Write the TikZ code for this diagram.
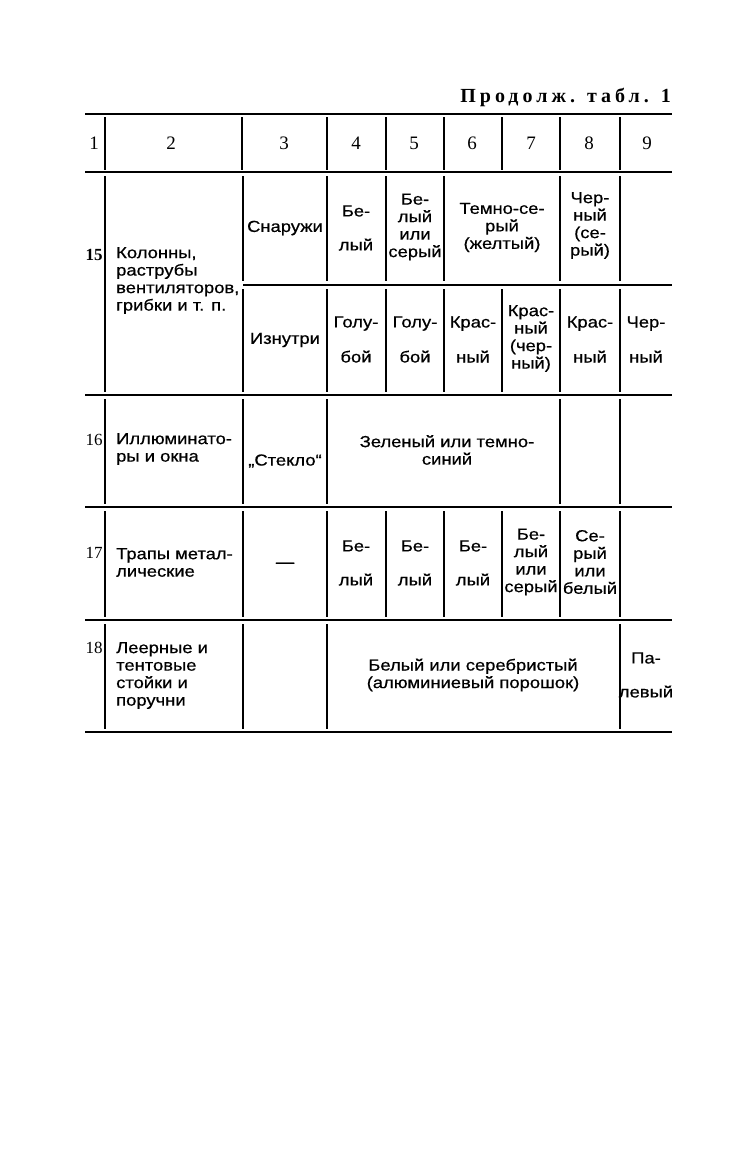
\documentclass[tikz,border=0pt]{standalone}
\usepackage{fontspec}
\setmainfont{Liberation Serif}
\newfontfamily\bodyfont{Liberation Sans}[FakeStretch=1.15,FakeBold=0.6]
\newfontfamily\numfont{Liberation Serif}
\newfontfamily\ttlfont{Liberation Serif}[LetterSpace=20]
\begin{document}
\begin{tikzpicture}[x=1pt,y=-1pt,
  rule/.style={line width=1.5pt},
  thickrule/.style={line width=2.2pt},
  vrule/.style={line width=1.3pt},
  txt/.style={inner sep=0pt,align=center,font=\bodyfont\fontsize{16}{17.5}\selectfont},
  ltxt/.style={inner sep=0pt,align=left,anchor=west,font=\bodyfont\fontsize{16}{17.5}\selectfont},
  hnum/.style={inner sep=0pt,font=\numfont\fontsize{19}{20}\selectfont},
  rnum/.style={inner sep=0pt,font=\numfont\bfseries\fontsize{17}{18}\selectfont}]
\useasboundingbox (0,0) rectangle (750,1175);
% title
\node[inner sep=0pt,anchor=base east,font=\ttlfont\bfseries\fontsize{20}{21}\selectfont] (title) at (671,102) {Продолж. табл. 1};
% horizontal rules
\draw[rule] (85,114) -- (672,114);
\draw[thickrule] (85,172) -- (672,172);
\draw[rule] (243,285) -- (672,285);
\draw[rule] (85,395) -- (672,395);
\draw[rule] (85,507) -- (672,507);
\draw[rule] (85,620) -- (672,620);
\draw[rule] (85,732) -- (672,732);
% vertical rules: header
\foreach \x in {105,242,327,386,444,502,560,620} \draw[vrule] (\x,117) -- (\x,170);
% row 15
\draw[vrule] (105,176) -- (105,392);
\foreach \x in {243,327,386,444,560,620} \draw[vrule] (\x,176) -- (\x,281);
\foreach \x in {243,327,386,444,502,560,620} \draw[vrule] (\x,289) -- (\x,392);
% row 16
\foreach \x in {105,243,327,560,620} \draw[vrule] (\x,399) -- (\x,504);
% row 17
\foreach \x in {105,243,327,386,444,502,560,620} \draw[vrule] (\x,511) -- (\x,617);
% row 18
\foreach \x in {105,243,327,620} \draw[vrule] (\x,624) -- (\x,729);
% header numbers
\node[hnum] (h1) at (94,143) {1};
\node[hnum] (h2) at (171,143) {2};
\node[hnum] (h3) at (284,143) {3};
\node[hnum] (h4) at (356,143) {4};
\node[hnum] (h5) at (414,143) {5};
\node[hnum] (h6) at (472,143) {6};
\node[hnum] (h7) at (531,143) {7};
\node[hnum] (h8) at (589,143) {8};
\node[hnum] (h9) at (647,143) {9};
% row 15
\node[rnum] (n15) at (94,255) {15};
\node[ltxt] (c15b) at (116,280.5) {Колонны,\\раструбы\\вентиляторов,\\грибки и т. п.};
\node[txt] (c15c1) at (285,228) {Снаружи};
\node[txt] (c15d1) at (356,228) {Бе-\\[16.5pt]лый};
\node[txt] (c15e1) at (415,227) {Бе-\\лый\\или\\серый};
\node[txt] (c15fg1) at (502,227.5) {Темно-се-\\рый\\(желтый)};
\node[txt] (c15h1) at (590,225.5) {Чер-\\ный\\(се-\\рый)};
\node[txt] (c15c2) at (285,340) {Изнутри};
\node[txt] (c15d2) at (356,339.5) {Голу-\\[17.5pt]бой};
\node[txt] (c15e2) at (415,339.5) {Голу-\\[17.5pt]бой};
\node[txt] (c15f2) at (473,339.5) {Крас-\\[17.5pt]ный};
\node[txt] (c15g2) at (531,338.5) {Крас-\\ный\\(чер-\\ный)};
\node[txt] (c15h2) at (590,339.5) {Крас-\\[17.5pt]ный};
\node[txt] (c15i2) at (646,339.5) {Чер-\\[17.5pt]ный};
% row 16
\node[rnum,font=\numfont\fontsize{17}{18}\selectfont] (n16) at (94,440) {16};
\node[ltxt] (c16b) at (116,449) {Иллюминато-\\ры и окна};
\node[txt] (c16c) at (285,461) {„Стекло“};
\node[txt] (c16dg) at (447,450) {Зеленый или темно-\\синий};
% row 17
\node[rnum,font=\numfont\fontsize{17}{18}\selectfont] (n17) at (94,553) {17};
\node[ltxt] (c17b) at (116,562.5) {Трапы метал-\\лические};
\node[txt] (c17c) at (285,565) {—};
\node[txt] (c17d) at (356,563) {Бе-\\[16.5pt]лый};
\node[txt] (c17e) at (415,563) {Бе-\\[16.5pt]лый};
\node[txt] (c17f) at (473,563) {Бе-\\[16.5pt]лый};
\node[txt] (c17g) at (531,562) {Бе-\\лый\\или\\серый};
\node[txt] (c17h) at (590,562) {Се-\\рый\\или\\белый};
% row 18
\node[rnum,font=\numfont\fontsize{17}{18}\selectfont] (n18) at (94,648) {18};
\node[ltxt] (c18b) at (116,675.5) {Леерные и\\тентовые\\стойки и\\поручни};
\node[txt] (c18dh) at (473,675) {Белый или серебристый\\(алюминиевый порошок)};
\node[txt] (c18i) at (646,675) {Па-\\[16.5pt]левый};
\end{tikzpicture}
\end{document}
